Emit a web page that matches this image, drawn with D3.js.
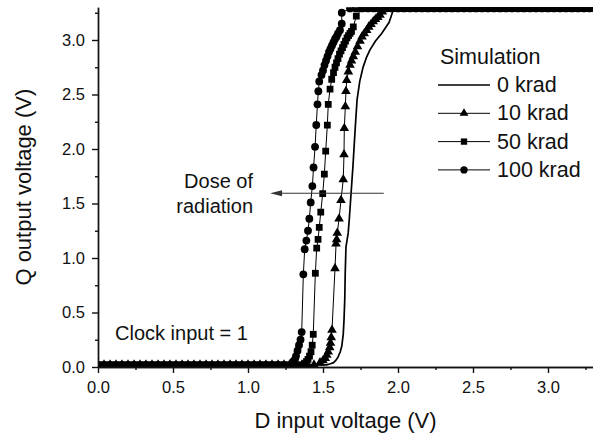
<!DOCTYPE html>
<html>
<head>
<meta charset="utf-8">
<title>Q output vs D input</title>
<script src="https://cdn.jsdelivr.net/npm/d3@7/dist/d3.min.js"></script>
<style>
    body { margin: 0; background: #fff; }
    text { font-family: "Liberation Sans", Arial, sans-serif; fill: #111; }
    .axis path, .axis line { stroke: #111; stroke-width: 1.4px; }
    .axis text { font-size: 16.5px; }
</style>
</head>
<body>
<script>
// D input sweep grid (V) on the flat parts of the curves
var sweepLow = [0.00, 0.04, 0.08, 0.12, 0.16, 0.20, 0.24, 0.28, 0.32, 0.36, 0.40, 0.44, 0.48,
    0.52, 0.56, 0.60, 0.64, 0.68, 0.72, 0.76, 0.80, 0.84, 0.88, 0.92, 0.96, 1.00, 1.04, 1.08,
    1.12, 1.16, 1.20, 1.24, 1.28, 1.32, 1.36, 1.40, 1.44];
var sweepHigh = [1.64, 1.68, 1.72, 1.76, 1.80, 1.84, 1.88, 1.92, 1.96, 2.00, 2.04, 2.08, 2.12,
    2.16, 2.20, 2.24, 2.28, 2.32, 2.36, 2.40, 2.44, 2.48, 2.52, 2.56, 2.60, 2.64, 2.68, 2.72,
    2.76, 2.80, 2.84, 2.88, 2.92, 2.96, 3.00, 3.04, 3.08, 3.12, 3.16, 3.20, 3.24, 3.28];
var lowLevel = 0.02;
var highLevel = 3.29;

// transition region of each simulation, [D input, Q output]
var rise0 = [[1.50,0.02],[1.525,0.02],[1.55,0.03],[1.57,0.04],[1.585,0.06],[1.60,0.09],[1.615,0.14],
    [1.625,0.19],[1.635,0.30],[1.64,0.43],[1.645,0.62],[1.648,0.85],[1.653,1.10],[1.668,1.23],
    [1.675,1.35],[1.685,1.55],[1.70,1.85],[1.713,2.15],[1.727,2.45],[1.745,2.62],[1.767,2.75],
    [1.79,2.84],[1.813,2.91],[1.85,2.99],[1.891,3.06],[1.92,3.12],[1.94,3.16],[1.955,3.22],
    [1.967,3.27],[1.98,3.29]];
var rise10 = [[1.48,0.04],[1.50,0.06],[1.515,0.08],[1.525,0.11],[1.535,0.14],[1.545,0.18],
    [1.55,0.22],[1.555,0.27],[1.56,0.34],[1.58,0.905],[1.587,1.13],[1.591,1.17],[1.595,1.23],
    [1.607,1.36],[1.62,1.53],[1.635,1.72],[1.64,1.95],[1.642,2.19],[1.649,2.39],[1.653,2.53],
    [1.658,2.63],[1.669,2.71],[1.68,2.77],[1.69,2.81],[1.702,2.85],[1.715,2.89],[1.73,2.94],
    [1.747,2.99],[1.76,3.03],[1.775,3.06],[1.791,3.09],[1.805,3.12],[1.82,3.145],[1.835,3.17],
    [1.85,3.19],[1.865,3.21],[1.88,3.23],[1.895,3.26]];
var rise50 = [[1.38,0.03],[1.39,0.05],[1.40,0.07],[1.41,0.10],[1.42,0.14],[1.428,0.20],[1.435,0.30],
    [1.449,0.86],[1.458,1.09],[1.467,1.17],[1.475,1.28],[1.485,1.42],[1.498,1.59],[1.509,1.77],
    [1.518,1.98],[1.529,2.22],[1.535,2.41],[1.547,2.55],[1.558,2.64],[1.57,2.70],[1.58,2.75],
    [1.59,2.79],[1.60,2.83],[1.61,2.87],[1.62,2.90],[1.63,2.93],[1.64,2.96],[1.65,2.99],
    [1.66,3.02],[1.67,3.04],[1.68,3.06],[1.69,3.08],[1.702,3.12],[1.722,3.22]];
var rise100 = [[1.29,0.03],[1.30,0.05],[1.313,0.07],[1.32,0.10],[1.33,0.15],[1.34,0.20],[1.35,0.25],
    [1.358,0.32],[1.369,0.85],[1.378,1.08],[1.389,1.16],[1.40,1.25],[1.409,1.36],[1.418,1.51],
    [1.429,1.66],[1.437,1.83],[1.447,2.02],[1.455,2.22],[1.463,2.41],[1.469,2.53],[1.475,2.62],
    [1.49,2.68],[1.50,2.72],[1.51,2.77],[1.52,2.81],[1.53,2.85],[1.54,2.89],[1.55,2.92],
    [1.56,2.95],[1.57,2.98],[1.58,3.01],[1.59,3.03],[1.60,3.06],[1.613,3.09],[1.625,3.15],
    [1.625,3.25]];

var seriesNames = ['0 krad', '10 krad', '50 krad', '100 krad'];
var seriesMarkers = [null, d3.symbolTriangle, d3.symbolSquare, d3.symbolCircle];
var markerSizes = [0, 40, 46, 48];
var xTicks = [0, 0.5, 1.0, 1.5, 2.0, 2.5, 3.0];
var xMinor = [0.25, 0.75, 1.25, 1.75, 2.25, 2.75, 3.25];
var yTicks = [0, 0.5, 1.0, 1.5, 2.0, 2.5, 3.0];
var yMinor = [0.25, 0.75, 1.25, 1.75, 2.25, 2.75, 3.25];

var width = 593, height = 437;
var x = d3.scaleLinear().domain([0, 3.3]).range([98, 593]);
var y = d3.scaleLinear().domain([0, 3.3]).range([367, 7.3]);

var buildSeries = function (rise) {
    var first = rise[0][0], last = rise[rise.length - 1][0];
    var low = sweepLow.filter(function (v) { return v < first - 0.015; }).map(function (v) { return [v, lowLevel]; });
    var high = sweepHigh.filter(function (v) { return v > last + 0.015; }).map(function (v) { return [v, highLevel]; });
    return low.concat(rise, high);
};
var series = [rise0, rise10, rise50, rise100].map(buildSeries);

var svg = d3.select('body').append('svg').attr('width', width).attr('height', height);

svg.append('clipPath').attr('id', 'plot').append('rect')
    .attr('x', x(0)).attr('y', y(3.3)).attr('width', x(3.3) - x(0)).attr('height', y(0) - y(3.3));

var plot = svg.append('g').attr('clip-path', 'url(#plot)');
var line = d3.line().x(d => x(d[0])).y(d => y(d[1]));

series.forEach(function (pts, i) {
    plot.append('path').datum(pts)
        .attr('d', line)
        .attr('fill', 'none')
        .attr('stroke', '#000')
        .attr('stroke-width', i === 0 ? 1.7 : 1);
    if (seriesMarkers[i]) {
        var sym = d3.symbol().type(seriesMarkers[i]).size(markerSizes[i]);
        plot.selectAll('.m' + i).data(pts).enter().append('path')
            .attr('class', 'm' + i)
            .attr('transform', d => 'translate(' + x(d[0]) + ',' + y(d[1]) + ')')
            .attr('d', sym)
            .attr('fill', '#000');
    }
});

// axes
svg.append('g').attr('class', 'axis').attr('transform', 'translate(0,' + y(0) + ')')
    .call(d3.axisBottom(x).tickValues(xMinor).tickSize(3).tickSizeOuter(0).tickFormat(''));
svg.append('g').attr('class', 'axis').attr('transform', 'translate(0,' + y(0) + ')')
    .call(d3.axisBottom(x).tickValues(xTicks).tickSize(6).tickSizeOuter(0).tickPadding(8).tickFormat(d3.format('.1f')));
svg.append('g').attr('class', 'axis').attr('transform', 'translate(' + x(0) + ',0)')
    .call(d3.axisLeft(y).tickValues(yMinor).tickSize(3).tickSizeOuter(0).tickFormat(''));
svg.append('g').attr('class', 'axis').attr('transform', 'translate(' + x(0) + ',0)')
    .call(d3.axisLeft(y).tickValues(yTicks).tickSize(6).tickSizeOuter(0).tickPadding(7).tickFormat(d3.format('.1f')));
svg.selectAll('.axis text').attr('fill', '#111');

svg.append('text').attr('x', (x(0) + x(3.3)) / 2).attr('y', 428)
    .attr('text-anchor', 'middle').style('font-size', '22px').text('D input voltage (V)');
svg.append('text').attr('transform', 'translate(31,' + (y(0) + y(3.3)) / 2 + ') rotate(-90)')
    .attr('text-anchor', 'middle').style('font-size', '22px').text('Q output voltage (V)');

// legend
var legend = svg.append('g');
legend.append('text').attr('x', 440).attr('y', 64).style('font-size', '21.5px').text('Simulation');
seriesNames.forEach(function (name, i) {
    var by = 92 + i * 28.3;
    legend.append('line').attr('x1', 438).attr('x2', 490).attr('y1', by - 7).attr('y2', by - 7)
        .attr('stroke', '#000').attr('stroke-width', i === 0 ? 1.7 : 1);
    if (seriesMarkers[i]) {
        legend.append('path').attr('transform', 'translate(464,' + (by - 7) + ')')
            .attr('d', d3.symbol().type(seriesMarkers[i]).size(markerSizes[i] - 6)).attr('fill', '#000');
    }
    legend.append('text').attr('x', 497).attr('y', by).style('font-size', '21.5px').text(name);
});

// annotations
svg.append('text').attr('x', 115).attr('y', 340).style('font-size', '20px').text('Clock input = 1');
svg.append('text').attr('x', 253).attr('y', 188).attr('text-anchor', 'end').style('font-size', '20px').text('Dose of');
svg.append('text').attr('x', 253).attr('y', 213).attr('text-anchor', 'end').style('font-size', '20px').text('radiation');

var arrowY = y(1.594), arrowX0 = x(1.905), arrowX1 = x(1.147);
svg.append('line').attr('x1', arrowX0).attr('x2', arrowX1 + 10).attr('y1', arrowY).attr('y2', arrowY)
    .attr('stroke', '#333').attr('stroke-width', 1.1);
svg.append('path')
    .attr('d', 'M' + arrowX1 + ',' + arrowY + 'L' + (arrowX1 + 12) + ',' + (arrowY - 3) + 'L' + (arrowX1 + 12) + ',' + (arrowY + 3) + 'Z')
    .attr('fill', '#333');
</script>
</body>
</html>
